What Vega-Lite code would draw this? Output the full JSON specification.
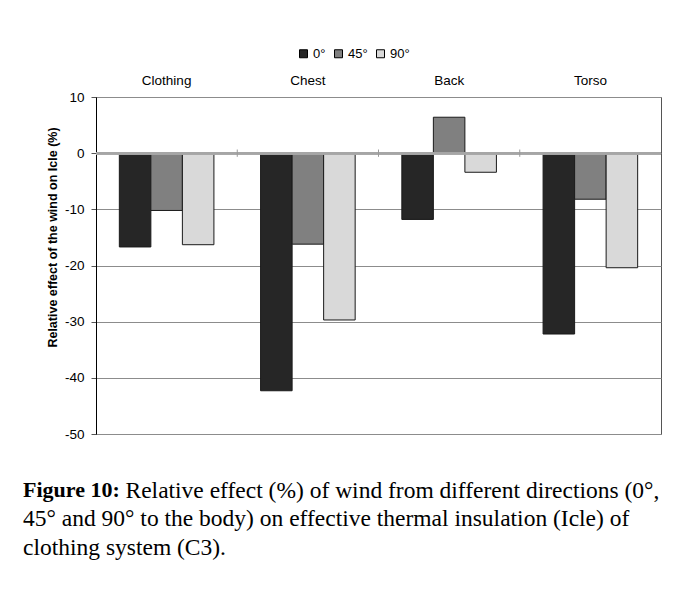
{
  "$schema": "https://vega.github.io/schema/vega-lite/v6.json",
  "width": 565,
  "height": 337,
  "padding": {"left": 23, "top": 47, "right": 5, "bottom": 5},
  "background": "white",
  "config": {
    "font": "Liberation Sans",
    "view": {"stroke": "#555555", "strokeWidth": 1}
  },
  "title": {
    "text": "Figure 10:",
    "subtitle": [
      "45° and 90° to the body) on effective thermal insulation (Icle) of",
      "clothing system (C3)."
    ],
    "orient": "bottom",
    "anchor": "start",
    "frame": "group",
    "dx": -73,
    "offset": -22,
    "font": "Liberation Serif",
    "fontSize": 22,
    "fontWeight": "bold",
    "color": "#000000",
    "subtitleFont": "Liberation Serif",
    "subtitleFontSize": 23.5,
    "subtitleFontWeight": "normal",
    "subtitleColor": "#000000",
    "subtitleLineHeight": 28.5,
    "subtitlePadding": 5.5
  },
  "resolve": {"axis": {"x": "independent"}},
  "data": {
    "values": [
      {"part": "Clothing", "angle": "0°", "value": -16.7},
      {"part": "Clothing", "angle": "45°", "value": -10.2},
      {"part": "Clothing", "angle": "90°", "value": -16.3},
      {"part": "Chest", "angle": "0°", "value": -42.3},
      {"part": "Chest", "angle": "45°", "value": -16.2},
      {"part": "Chest", "angle": "90°", "value": -29.7},
      {"part": "Back", "angle": "0°", "value": -11.8},
      {"part": "Back", "angle": "45°", "value": 6.4},
      {"part": "Back", "angle": "90°", "value": -3.4},
      {"part": "Torso", "angle": "0°", "value": -32.2},
      {"part": "Torso", "angle": "45°", "value": -8.2},
      {"part": "Torso", "angle": "90°", "value": -20.4}
    ]
  },
  "layer": [
    {
      "mark": {"type": "bar", "stroke": "#1a1a1a", "strokeWidth": 1},
      "encoding": {
        "x": {
          "field": "part",
          "type": "nominal",
          "sort": ["Clothing", "Chest", "Back", "Torso"],
          "scale": {"paddingInner": 0, "paddingOuter": 0},
          "axis": {
            "orient": "top",
            "title": null,
            "labelAngle": 0,
            "ticks": false,
            "domain": false,
            "labelFontSize": 13.5,
            "labelPadding": 10,
            "labelColor": "#000000"
          }
        },
        "xOffset": {
          "field": "angle",
          "type": "nominal",
          "sort": ["0°", "45°", "90°"],
          "scale": {"paddingInner": 0, "paddingOuter": 0.74}
        },
        "y": {
          "field": "value",
          "type": "quantitative",
          "scale": {"domain": [-50, 10], "nice": false},
          "axis": {
            "values": [-50, -40, -30, -20, -10, 0, 10],
            "labelExpr": "toString(datum.value)",
            "title": "Relative effect of the wind on Icle (%)",
            "titleFontSize": 12.5,
            "titleFontWeight": "bold",
            "titleColor": "#000000",
            "titlePadding": 5,
            "titleY": 140,
            "labelFontSize": 13.5,
            "labelColor": "#000000",
            "labelPadding": 7,
            "tickSize": 5,
            "tickColor": "#555555",
            "domainColor": "#000000",
            "grid": true,
            "gridColor": "#8c8c8c",
            "gridWidth": 1
          }
        },
        "color": {
          "field": "angle",
          "type": "nominal",
          "sort": ["0°", "45°", "90°"],
          "scale": {"range": ["#262626", "#808080", "#d9d9d9"]},
          "legend": {
            "orient": "none",
            "legendX": 201,
            "legendY": -50,
            "direction": "horizontal",
            "title": null,
            "symbolType": "square",
            "symbolSize": 64,
            "symbolStrokeColor": "#000000",
            "symbolStrokeWidth": 1,
            "symbolOpacity": 1,
            "labelFontSize": 13,
            "labelColor": "#000000",
            "labelOffset": 3,
            "columnPadding": 6
          }
        }
      }
    },
    {
      "mark": {"type": "rule", "color": "#a6a6a6", "strokeWidth": 2},
      "encoding": {"y": {"datum": 0}}
    },
    {
      "transform": [{"filter": "datum.angle == '0°' && datum.part != 'Clothing'"}],
      "mark": {"type": "rule", "color": "#999999", "strokeWidth": 1},
      "encoding": {
        "x": {
          "field": "part",
          "type": "nominal",
          "sort": ["Clothing", "Chest", "Back", "Torso"],
          "bandPosition": 0,
          "axis": {
            "orient": "bottom",
            "labels": false,
            "ticks": false,
            "domain": false,
            "grid": false,
            "title": "Relative effect (%) of wind from different directions (0°,",
            "titleFont": "Liberation Serif",
            "titleFontSize": 23.5,
            "titleFontWeight": "normal",
            "titleColor": "#000000",
            "titleAlign": "left",
            "titleAnchor": "start",
            "titleBaseline": "alphabetic",
            "titleX": 29,
            "titleY": 63
          }
        },
        "y": {"datum": -0.65},
        "y2": {"datum": 0.65}
      }
    }
  ]
}
